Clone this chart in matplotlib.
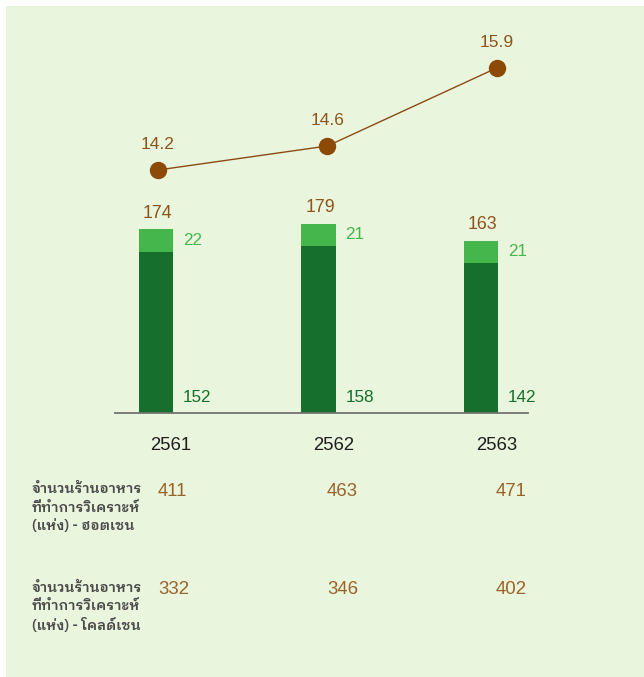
import matplotlib
matplotlib.use("Agg")
import matplotlib.pyplot as plt
from matplotlib.patches import Rectangle

# ---- data ----
years = ["2561", "2562", "2563"]
hot_chain = [152, 158, 142]      # dark green
cold_chain = [22, 21, 21]        # light green
totals = [174, 179, 163]
line_values = [14.2, 14.6, 15.9]
row_labels = [["จำนวนร้านอาหาร", "ที่ทำการวิเคราะห์", "(แห่ง) - ฮอตเชน"],
              ["จำนวนร้านอาหาร", "ที่ทำการวิเคราะห์", "(แห่ง) - โคลด์เชน"]]
row_hot = [411, 463, 471]
row_cold = [332, 346, 402]

W, H = 644, 677
BG = "#EAF5DE"
DARK = "#166F2C"
LIGHT = "#45B64B"
BROWN = "#8C4A06"
BROWN_TXT = "#8D5418"
TABLE_TXT = "#9A6328"
NUM_FONT = ["Liberation Sans", "DejaVu Sans"]
THAI_FONT = ["IBM Plex Sans Thai Looped", "Noto Sans Thai Looped", "DejaVu Sans"]

fig = plt.figure(figsize=(W / 100, H / 100), dpi=100)
fig.patch.set_facecolor("white")
fig.patches.append(Rectangle((6 / W, 0), 1 - 6 / W, 1 - 6 / H, transform=fig.transFigure,
                             facecolor=BG, edgecolor="none", zorder=-10))

def px_axes(left, top, right, bottom):
    return fig.add_axes([left / W, 1 - bottom / H, (right - left) / W, (bottom - top) / H])

# bar axes: baseline at y=413 px
ax = px_axes(115, 413 - 200 * 1.057, 528, 413)
ax.set_facecolor("none")
x = list(range(len(years)))
ax.bar(x, hot_chain, width=0.21, color=DARK, zorder=2)
ax.bar(x, cold_chain, bottom=hot_chain, width=0.21, color=LIGHT, zorder=2)
ax.set_xlim(-0.252, 2.289)
ax.set_ylim(0, 200)
for s in ["top", "right", "left"]:
    ax.spines[s].set_visible(False)
ax.spines["bottom"].set_color("#737373")
ax.spines["bottom"].set_linewidth(1.3)
ax.set_xticks([])
ax.set_yticks([])
for i in x:
    ax.text(i + 0.165, hot_chain[i] + cold_chain[i] / 2, str(cold_chain[i]), color=LIGHT,
            fontsize=12.3, family=NUM_FONT, ha="left", va="center", clip_on=False)
    ax.text(i + 0.165, 15, str(hot_chain[i]), color=DARK,
            fontsize=12.3, family=NUM_FONT, ha="left", va="center", clip_on=False)
    ax.text(i + 0.01, totals[i] + 15, str(totals[i]), color=BROWN_TXT,
            fontsize=12.8, family=NUM_FONT, ha="center", va="center", clip_on=False)

# line axes
ax2 = px_axes(115, 20, 528, 200)
ax2.set_facecolor("none")
ax2.plot(x, line_values, color="#8C4A12", linewidth=1.0, marker="o",
         markersize=11.5, markerfacecolor=BROWN, markeredgecolor=BROWN, zorder=3)
ax2.set_xlim(-0.254, 2.185)
ax2.set_ylim(13.7, 16.7)
ax2.axis("off")
for i in x:
    ax2.text(i, line_values[i] + 0.43, f"{line_values[i]:.1f}", color=BROWN_TXT,
             fontsize=12.5, family=NUM_FONT, ha="center", va="center", clip_on=False)

# year labels
year_left = [150, 313, 476]
for xl, yr in zip(year_left, years):
    fig.text(xl / W, 1 - 445 / H, yr, color="#1E1E1E", fontsize=13.3, family=NUM_FONT,
             ha="left", va="center")

# table
val_left = [158, 327, 496]
for row_y, lines, vals in [(489, row_labels[0], row_hot), (588, row_labels[1], row_cold)]:
    for k, ln in enumerate(lines):
        fig.text(32 / W, 1 - (row_y + 18.5 * k) / H, ln, color="#4A4A4A", fontsize=10.1,
                 family=THAI_FONT, weight="semibold", ha="left", va="center")
    for xl, v in zip(val_left, vals):
        fig.text(xl / W, 1 - (row_y + 2) / H, str(v), color=TABLE_TXT, fontsize=13.4,
                 family=NUM_FONT, ha="left", va="center")

fig.savefig("out.png", dpi=100, facecolor=fig.get_facecolor())
